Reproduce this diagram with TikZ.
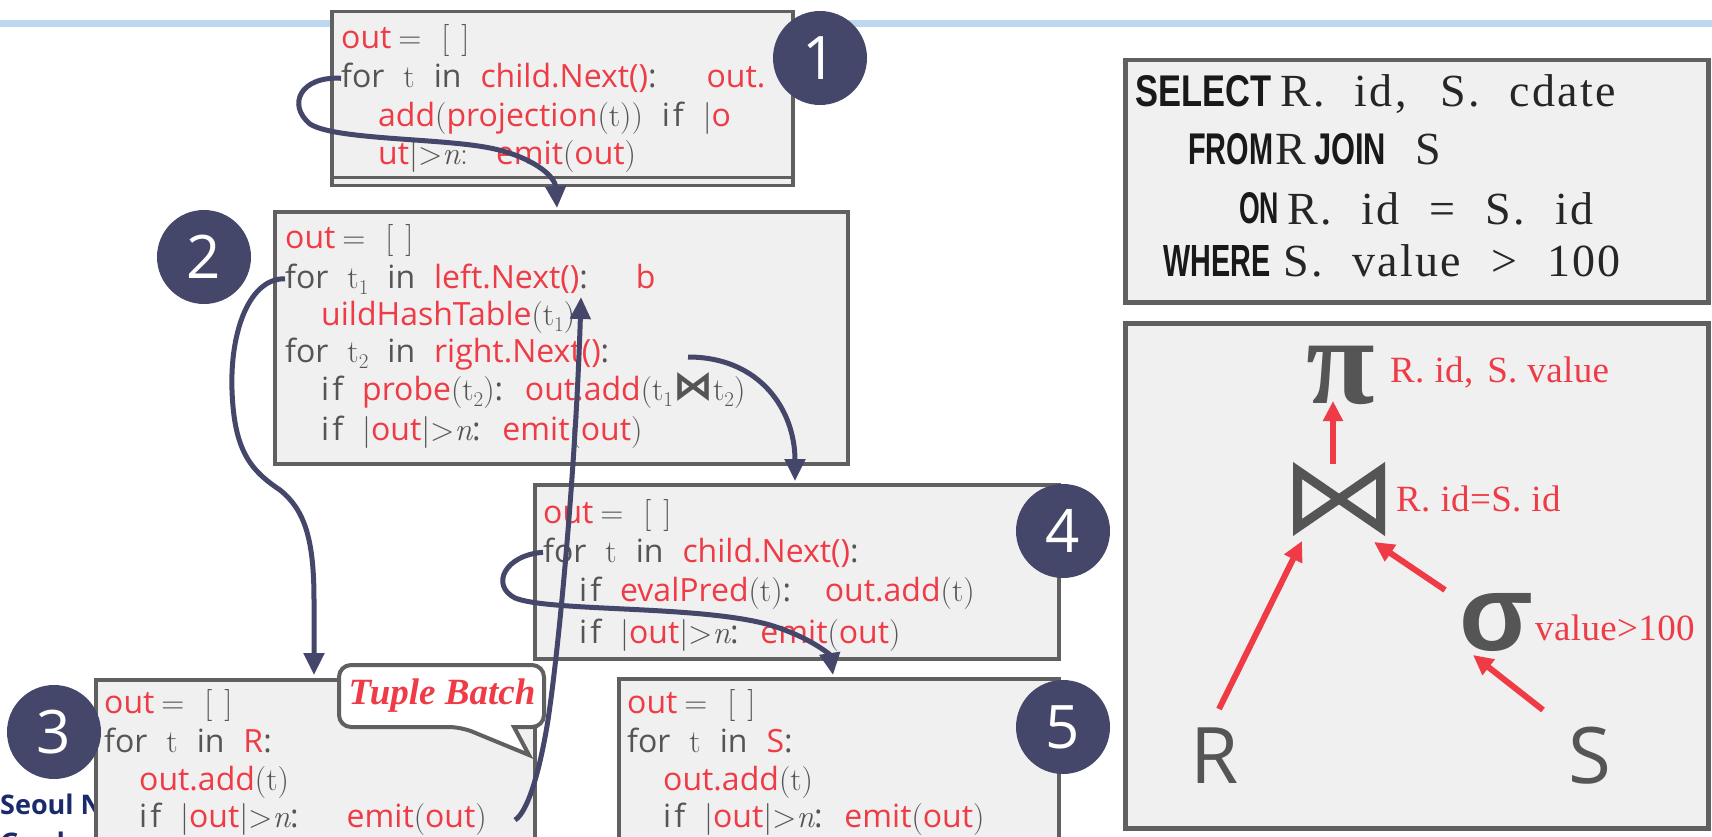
\documentclass[tikz,border=0pt]{standalone}
\usepackage{fontspec}
\usepackage{graphicx}
\usetikzlibrary{arrows.meta}
\newfontfamily\codesans{Open Sans}
\newfontfamily\numfont{Open Sans}
\newfontfamily\kwfont{Liberation Sans}
\newfontfamily\sqlserif{Liberation Serif}[LetterSpace=5]
\newfontfamily\lblserif{Liberation Serif}[LetterSpace=1]
\newfontfamily\symserif{Liberation Serif}
\newfontfamily\symsans{Liberation Sans}
\newfontfamily\djv{DejaVu Sans}
\definecolor{cred}{HTML}{EE3B45}
\definecolor{cgrey}{HTML}{555555}
\definecolor{navy}{HTML}{45476A}
\definecolor{boxfill}{HTML}{F0F0F0}
\definecolor{boxline}{HTML}{606060}
\definecolor{blueline}{HTML}{BDD7EE}
\definecolor{snu}{HTML}{1B2A6B}
\newcommand\rd[1]{\textcolor{cred}{#1}}
\newcommand\sr[1]{{\rmfamily #1}}
\newcommand\tsub[1]{{\rmfamily t\raisebox{-6pt}{\fontsize{21}{21}\selectfont #1}}}
\newcommand\nit{{\rmfamily\itshape n}}
\newcommand\ifw{i\kern3pt f}
\newcommand\bowjoin{{\djv\bfseries\fontsize{40}{40}\selectfont\raisebox{1pt}{⋈}}}
\newcommand\kwd[2]{\resizebox{#1pt}{31pt}{#2}}
\begin{document}
\begin{tikzpicture}[x=1pt,y=-1pt,
  codebox/.style={draw=boxline, fill=boxfill, line width=3.5pt, anchor=north west, inner sep=0pt},
  bigbox/.style={draw=boxline, fill=boxfill, line width=4.5pt, anchor=north west, inner sep=0pt},
  code/.style={anchor=base west, inner sep=0pt, text=cgrey, font={\codesans\fontsize{32}{38}\selectfont\spaceskip=19pt\relax}},
  numc/.style={circle, fill=navy, minimum size=94pt, inner sep=0pt, text=white, font={\numfont\fontsize{60}{60}\selectfont}},
  flow/.style={draw=navy, line width=5pt, -{Triangle[length=22pt,width=20pt]}},
  tarrow/.style={draw=cred, line width=6pt, -{Triangle[length=20pt,width=19pt]}},
  kw/.style={anchor=base west, inner sep=0pt, text=black!90, font={\kwfont\bfseries\fontsize{43}{43}\selectfont}},
  sq/.style={anchor=base west, inner sep=0pt, text=black!85, font={\sqlserif\fontsize{46}{46}\selectfont\spaceskip=30pt\relax}},
  lbl/.style={anchor=base west, inner sep=0pt, text=cred, font={\lblserif\fontsize{37}{37}\selectfont\spaceskip=10pt\relax}},
  opsym/.style={inner sep=0pt, text=cgrey}
]
\useasboundingbox (0,0) rectangle (1712,837);
\fill[white] (0,0) rectangle (1712,837);
\draw[blueline, line width=7pt] (0,23.5) -- (1712,23.5);

% footer text (partly behind box 3)
\node[anchor=base west, inner sep=0pt, text=snu, font={\numfont\bfseries\fontsize{27}{27}\selectfont}] (snu1) at (0,814) {Seoul N};
\node[anchor=base west, inner sep=0pt, text=snu, font={\numfont\bfseries\fontsize{27}{27}\selectfont}] (snu2) at (0,852) {Grad};

% code boxes
\node[codebox, minimum width=461pt, minimum height=174pt] (box1) at (330,10) {};
\draw[boxline, line width=3pt] ([yshift=10pt]box1.south west) -- ([yshift=10pt]box1.south east);
\node[codebox, minimum width=573pt, minimum height=252pt] (box2) at (273,210) {};
\node[codebox, minimum width=524pt, minimum height=174pt] (box4) at (533,483) {};
\node[codebox, minimum width=439pt, minimum height=200pt] (box3) at (94,678) {};
\node[codebox, minimum width=440pt, minimum height=200pt] (box5) at (617,677) {};

% box 1
\node[code] (b1a) at (341,49) {\rd{out}\hspace{7pt}\sr{=}\hspace{20pt}\sr{[}\hspace{12pt}\sr{]}};
\node[code] (b1b) at (341,88) {for \sr{t} in \rd{child.Next()}:\hspace{50pt}\rd{out.}};
\node[code] (b1c) at (378,127) {\rd{add}\sr{(}\rd{projection}\sr{(t))} \ifw{} \sr{|}\rd{o}};
\node[code] (b1d) at (378,165) {\rd{ut}\sr{|>}\nit\sr{:}\hspace{28pt}\rd{emit}\sr{(}\rd{out}\sr{)}};

% box 2
\node[code] (b2a) at (285,248) {\rd{out}\hspace{7pt}\sr{=}\hspace{20pt}\sr{[}\hspace{12pt}\sr{]}};
\node[code] (b2b) at (285,288) {for \tsub{1} in \rd{left.Next()}:\hspace{48pt}\rd{b}};
\node[code] (b2c) at (321,325) {\rd{uildHashTable}\sr{(}\tsub{1}\sr{)}};
\node[code] (b2d) at (285,362) {for \tsub{2} in \rd{right.Next()}:};
\node[code] (b2e) at (321,400) {\ifw{} \rd{probe}\sr{(}\tsub{2}\sr{)}: \rd{out.add}\sr{(}\tsub{1}\bowjoin\tsub{2}\sr{)}};
\node[code] (b2f) at (321,440) {\ifw{} \sr{|}\rd{out}\sr{|>}\nit: \rd{emit}\sr{(}\rd{out}\sr{)}};

% box 4
\node[code] (b4a) at (543,523) {\rd{out}\hspace{7pt}\sr{=}\hspace{20pt}\sr{[}\hspace{12pt}\sr{]}};
\node[code] (b4b) at (543,562) {for \sr{t} in \rd{child.Next()}:};
\node[code] (b4c) at (579,601) {\ifw{} \rd{evalPred}\sr{(t)}:\hspace{12pt} \rd{out.add}\sr{(t)}};
\node[code] (b4d) at (579,643) {\ifw{} \sr{|}\rd{out}\sr{|>}\nit: \rd{emit}\sr{(}\rd{out}\sr{)}};

% box 3
\node[code] (b3a) at (104,713) {\rd{out}\hspace{7pt}\sr{=}\hspace{20pt}\sr{[}\hspace{12pt}\sr{]}};
\node[code] (b3b) at (104,752) {for \sr{t} in \rd{R}:};
\node[code] (b3c) at (139,790) {\rd{out.add}\sr{(t)}};
\node[code] (b3d) at (139,827) {\ifw{} \sr{|}\rd{out}\sr{|>}\nit:\hspace{48pt}\rd{emit}\sr{(}\rd{out}\sr{)}};

% box 5
\node[code] (b5a) at (627,713) {\rd{out}\hspace{7pt}\sr{=}\hspace{20pt}\sr{[}\hspace{12pt}\sr{]}};
\node[code] (b5b) at (627,752) {for \sr{t} in \rd{S}:};
\node[code] (b5c) at (663,790) {\rd{out.add}\sr{(t)}};
\node[code] (b5d) at (663,827) {\ifw{} \sr{|}\rd{out}\sr{|>}\nit: \rd{emit}\sr{(}\rd{out}\sr{)}};

% callout
\draw[draw=boxline, fill=white, line width=4pt, rounded corners=12pt]
  (514,727) -- (544,727) -- (544,665) -- (339,665) -- (339,727) -- (461,727) [sharp corners] -- (529,755) -- cycle;
\node[inner sep=0pt, text=cred, font={\symserif\bfseries\itshape\fontsize{37}{37}\selectfont}] (tb) at (442,696) {Tuple Batch};

% number circles
\node[numc] (c1) at (820,58) {1};
\node[numc] (c2) at (204,257) {2};
\node[numc] (c3) at (54,732) {3};
\node[numc] (c4) at (1063,531) {4};
\node[numc] (c5) at (1063,727) {5};

% connectors
\coordinate (Aend) at (557,208);
\coordinate (Bend) at (314,675);
\coordinate (Cstart) at (515,820);
\coordinate (Cend) at (581,297);
\coordinate (Dstart) at (688,357);
\coordinate (Dend) at (795,481);
\coordinate (Eend) at (833,675);
\draw[flow] (b1b.west) .. controls (300,76) and (287,105) .. (310,124)
  .. controls (335,140) and (440,138) .. (490,148)
  .. controls (530,156) and (555,175) .. (Aend);
\draw[flow] (b2b.west) .. controls (250,278) and (230,330) .. (232,390)
  .. controls (234,450) and (250,470) .. (280,490)
  .. controls (305,510) and (314,540) .. (314,600) -- (Bend);
\draw[flow] (Cstart) .. controls (528,812) and (540,770) .. (548,720)
  .. controls (560,640) and (576,460) .. (Cend);
\draw[flow] (Dstart) .. controls (760,357) and (795,410) .. (Dend);
\draw[flow] (b4b.west) .. controls (505,555) and (490,585) .. (515,598)
  .. controls (550,612) and (700,605) .. (770,625)
  .. controls (810,637) and (830,655) .. (Eend);

% SQL box
\node[bigbox, minimum width=583pt, minimum height=242pt] (sql) at (1123,58) {};
\node[kw] (k1) at (1135,107) {\kwd{136}{SELECT}};
\node[sq] (s1) at (1280,107) {R. id,\hspace{4pt} S. cdate};
\node[kw] (k2) at (1188,165) {\kwd{85}{FROM}};
\node[sq] (s2) at (1275,165) {R};
\node[kw] (k3) at (1314,165) {\kwd{72}{JOIN}};
\node[sq] (s3) at (1415,165) {S};
\node[kw] (k4) at (1239,224) {\kwd{40}{ON}};
\node[sq] (s4) at (1287,224) {R. id = S. id};
\node[kw] (k5) at (1163,276) {\kwd{107}{WHERE}};
\node[sq] (s5) at (1283,276) {S. value > 100};

% tree box
\node[bigbox, minimum width=583pt, minimum height=505pt] (tree) at (1123,321) {};
\node[opsym, font={\symserif\bfseries\fontsize{125}{125}\selectfont}] (pi) at (1341,375) {π};
\node[lbl] (pil) at (1390,382) {R. id,\hspace{4pt} S. value};
\coordinate (join) at (1339,499);
\draw[cgrey, line width=9pt, line join=miter]
  (1297.5,470.5) -- (join) -- (1380.5,470.5) -- (1380.5,527.5) -- (join) -- (1297.5,527.5) -- cycle;
\node[lbl] (joinl) at (1396,511) {R. id=S. id};
\node[opsym, font={\symsans\bfseries\fontsize{108}{108}\selectfont}] (sig) at (1496,622) {σ};
\node[lbl] (sigl) at (1535,640) {value>100};
\node[opsym, font={\numfont\fontsize{78}{78}\selectfont}] (R) at (1215,756) {R};
\node[opsym, font={\numfont\fontsize{78}{78}\selectfont}] (S) at (1590,756) {S};
\coordinate (j1) at (1333,464);
\coordinate (p1) at (1333,401);
\coordinate (r1) at (1219,709);
\coordinate (j2) at (1302,541);
\coordinate (g1) at (1445,590);
\coordinate (j3) at (1374,542);
\coordinate (s6) at (1543,710);
\coordinate (g2) at (1473,655);
\draw[tarrow] (j1) -- (p1);
\draw[tarrow] (r1) -- (j2);
\draw[tarrow] (g1) -- (j3);
\draw[tarrow] (s6) -- (g2);
\end{tikzpicture}
\end{document}
